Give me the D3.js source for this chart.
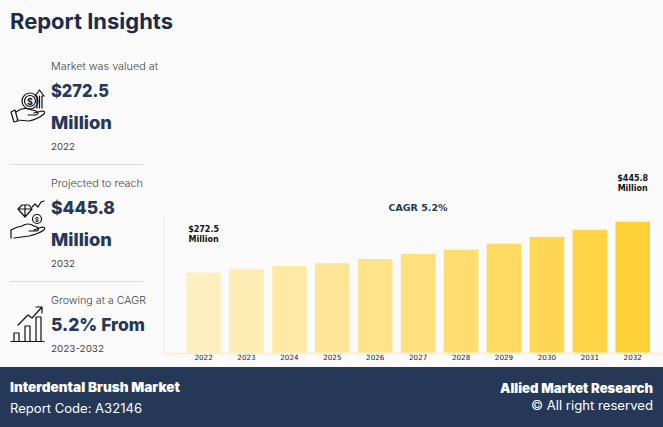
<!DOCTYPE html>
<html>
<head>
<meta charset="utf-8">
<script src="https://cdn.jsdelivr.net/npm/d3@7"></script>
<style>
    html, body { margin: 0; padding: 0; background: #fafafa; overflow: hidden; }
    text { font-family: Inter, "Open Sans", sans-serif; }
    .chart text { font-family: "DejaVu Sans", sans-serif; }
    .icon * { fill: none; stroke: #111; stroke-width: 1.2; stroke-linejoin: round; stroke-linecap: round; }
</style>
</head>
<body>
<div id="chart"></div>
<script>
// values
const years = ["2022", "2023", "2024", "2025", "2026", "2027", "2028", "2029", "2030", "2031", "2032"];
const marketValues = [272.5, 284, 295, 305, 319, 336, 350.5, 371, 394.5, 418.5, 445.8];
const firstLabel = ["$272.5", "Million"];
const lastLabel = ["$445.8", "Million"];
const cagrLabel = "CAGR 5.2%";

const W = 663, H = 427;
const navy = "#253858";

const svg = d3.select("#chart").append("svg")
    .attr("width", W)
    .attr("height", H)
    .style("display", "block");

svg.append("rect").attr("width", W).attr("height", H).attr("fill", "#fafafa");

// text helper, len forces the width seen in the reference
function label(parent, x, y, str, size, weight, color, anchor, len) {
    const t = parent.append("text")
        .attr("x", x)
        .attr("y", y)
        .attr("font-size", size)
        .attr("font-weight", weight)
        .attr("fill", color)
        .attr("text-anchor", anchor || "start")
        .text(str);
    if (len) t.attr("textLength", len).attr("lengthAdjust", "spacingAndGlyphs");
    return t;
}

// left panel
label(svg, 10, 29, "Report Insights", 21, 700, "#1e2a4a", "start", 163);

const grey = "#444";
label(svg, 51, 70, "Market was valued at", 10, 300, grey, "start", 107);
label(svg, 51, 97, "$272.5", 18, 800, navy, "start", 58);
label(svg, 51, 129, "Million", 18, 800, navy, "start", 61);
label(svg, 51, 150, "2022", 9.5, 400, grey, "start", 24);

label(svg, 51, 187, "Projected to reach", 10, 300, grey, "start", 92);
label(svg, 51, 214, "$445.8", 18, 800, navy, "start", 64);
label(svg, 51, 246, "Million", 18, 800, navy, "start", 61);
label(svg, 51, 267, "2032", 9.5, 400, grey, "start", 24);

label(svg, 51, 304, "Growing at a CAGR", 10, 300, grey, "start", 95);
label(svg, 51, 331, "5.2% From", 18, 800, navy, "start", 94);
label(svg, 51, 352, "2023-2032", 9.5, 400, grey, "start", 53);

svg.selectAll(".sep")
    .data([164.5, 281.5])
    .enter().append("line")
    .attr("class", "sep")
    .attr("x1", 10).attr("x2", 143)
    .attr("y1", d => d).attr("y2", d => d)
    .attr("stroke", "#dcdcdc");

// icons
const icon1 = svg.append("g").attr("class", "icon");
icon1.append("path").attr("d", "M11 112 L14 122 L18 121 L15 110 Z M16 112 Q24 106 32 110 L36 111 Q40 113 36 115 L28 115 M17 120 L29 121 Q38 119 44 114 Q46 111 42 111 L34 113");
icon1.append("circle").attr("cx", 30).attr("cy", 101).attr("r", 8);
icon1.append("circle").attr("cx", 30).attr("cy", 101).attr("r", 5.5);
icon1.append("path").attr("d", "M37 108 L37 96 L35 96 L39.5 90 L44 96 L42 96 L42 108 M39.5 96 L39.5 108");
label(icon1, 30, 104.5, "$", 9, 700, "#111", "middle").style("stroke", "none").style("fill", "#111");

const icon2 = svg.append("g").attr("class", "icon").attr("transform", "translate(0,117)");
icon2.append("path").attr("d", "M11 121 L11 113 Q16 110 22 109 Q28 105 34 109 L37 110 Q40 112 37 114 L29 114 M14 121 L29 119 Q38 117 44 113 Q46 110 42 110 L34 113");
icon2.append("path").attr("d", "M18 92 L22 88 L29 88 L32 92 L25 100 Z M18 92 L32 92 M25 88 L25 100");
icon2.append("circle").attr("cx", 37).attr("cy", 102).attr("r", 4.5);
icon2.append("path").attr("d", "M32 90 L35 87 L38 90 L41 85 L44 84");
label(icon2, 37, 104.5, "$", 6, 700, "#111", "middle").style("stroke", "none").style("fill", "#111");

const icon3 = svg.append("g").attr("class", "icon");
icon3.append("path").attr("d", "M11 341.5 L44 341.5");
icon3.append("path").attr("d", "M14 341 L14 333 L19 333 L19 341 M25 341 L25 326 L30 326 L30 341 M36 341 L36 317 L41 317 L41 341");
icon3.append("path").attr("d", "M18 325 L28 315 L32 318 L42 307 M36 307 L42 307 L42 313");

// bar chart
const baseY = 352.7, topY = 221.7;

const x = d3.scaleBand()
    .domain(years)
    .range([186.3, 650])
    .paddingInner(0.195)
    .paddingOuter(0);

const y = d3.scaleLinear()
    .domain([0, d3.max(marketValues)])
    .range([baseY, topY]);

const barColor = d3.scaleLinear()
    .domain([0, years.length - 1])
    .range(["#ffefbf", "#ffd138"]);

const chart = svg.append("g").attr("class", "chart");

chart.selectAll(".bar")
    .data(marketValues)
    .enter().append("rect")
    .attr("class", "bar")
    .attr("x", (d, i) => x(years[i]))
    .attr("y", d => y(d))
    .attr("width", x.bandwidth())
    .attr("height", d => baseY - y(d))
    .attr("fill", (d, i) => barColor(i));

// axis lines
chart.append("line")
    .attr("x1", 163.5).attr("x2", 663)
    .attr("y1", 353.5).attr("y2", 353.5)
    .attr("stroke", "#ffeebb")
    .attr("stroke-width", 1.5);
chart.append("line")
    .attr("x1", 163.5).attr("x2", 163.5)
    .attr("y1", 214).attr("y2", 354)
    .attr("stroke", "#ffeebb")
    .attr("stroke-width", 1);

const axis = chart.append("g")
    .attr("transform", `translate(0,${baseY})`)
    .call(d3.axisBottom(x).tickSize(0).tickPadding(2.5));
axis.select(".domain").remove();
axis.selectAll("text")
    .attr("font-size", 7.2)
    .attr("fill", "#222")
    .style("font-family", '"DejaVu Sans", sans-serif');

// value labels
const center = i => x(years[i]) + x.bandwidth() / 2;
firstLabel.forEach((s, k) => label(chart, center(0), 232 + k * 9.5, s, 8, 700, "#111", "middle"));
lastLabel.forEach((s, k) => label(chart, center(years.length - 1), 181 + k * 9.5, s, 8, 700, "#111", "middle"));
label(chart, 418, 211, cagrLabel, 9.5, 700, navy, "middle");

// footer
svg.append("rect").attr("y", 367).attr("width", W).attr("height", H - 367).attr("fill", navy);
label(svg, 10, 392, "Interdental Brush Market", 13, 900, "#fff", "start", 170);
label(svg, 10, 413, "Report Code: A32146", 12.5, 400, "#fff", "start", 132);
label(svg, 653, 393, "Allied Market Research", 13, 900, "#fff", "end", 153);
label(svg, 653, 410, "© All right reserved", 12.5, 400, "#fff", "end", 122);
</script>
</body>
</html>
